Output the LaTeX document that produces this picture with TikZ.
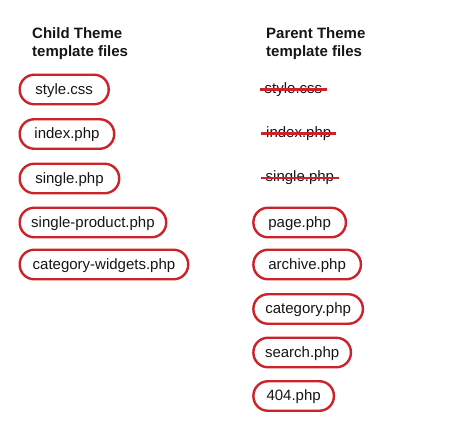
\documentclass[tikz,border=0pt]{standalone}
\usepackage{fontspec}
\setmainfont{Liberation Sans}
\definecolor{pillred}{HTML}{CC2229}
\definecolor{ink}{HTML}{151515}
\tikzset{
    heading/.style={anchor=north west, align=left, inner sep=0pt, text=ink,
        font=\bfseries\fontsize{15}{18}\selectfont},
    file/.style={draw=pillred, line width=2.4pt, rounded corners=14.5pt,
        minimum height=29.5pt, minimum width=#1, inner xsep=4pt,
        text height=12.5pt, text depth=3pt, anchor=west, text=ink,
        font=\fontsize{15}{18}\selectfont},
    gone/.style={anchor=west, inner xsep=5pt, inner ysep=0pt, text=ink,
        font=\fontsize{15}{18}\selectfont},
    strike/.style={draw=pillred, line width=2.4pt}
}

\begin{document}
\begin{tikzpicture}[x=1pt, y=-1pt]
        \useasboundingbox (0,0) rectangle (470,445);
        % Headings of the two columns
        \node[heading] (childhead) at (32,27) {Child Theme\\template files};
        \node[heading] (parenthead) at (266,27) {Parent Theme\\template files};
        % Child theme files
        \node[file=89pt] (cstyle) at (18.5,89.5) {style.css};
        \node[file=94.5pt] (cindex) at (18.5,134) {index.php};
        \node[file=99.5pt] (csingle) at (18.5,178.5) {single.php};
        \node[file=146.5pt] (cproduct) at (18.5,222.5) {single-product.php};
        \node[file=168.5pt] (cwidgets) at (18.5,264.5) {category-widgets.php};
        % Parent theme files overridden by the child
        \node[gone] (pstyle) at (259.5,89.5) {style.css};
        \node[gone] (pindex) at (261,133.5) {index.php};
        \node[gone] (psingle) at (260.5,177.8) {single.php};
        \draw[strike] (pstyle.west) -- (pstyle.east);
        \draw[strike] (pindex.west) -- (pindex.east);
        \draw[strike] (psingle.west) -- (psingle.east);
        % Parent theme files still in use
        \node[file=92.5pt] (ppage) at (252.2,222.5) {page.php};
        \node[file=107.5pt] (parchive) at (252.2,264.5) {archive.php};
        \node[file=109.5pt] (pcategory) at (252.2,309) {category.php};
        \node[file=97.5pt] (psearch) at (252.2,352.5) {search.php};
        \node[file=80.5pt] (p404) at (252.2,396) {404.php};
    \end{tikzpicture}
\end{document}
